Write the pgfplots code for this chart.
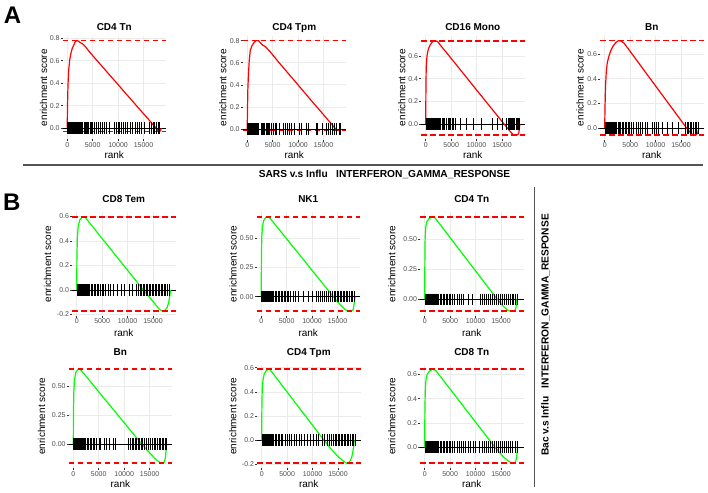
\documentclass[border=0pt]{standalone}
\usepackage{pgfplots}
\pgfplotsset{compat=1.18}
\usepackage{fontspec}
\setmainfont{Liberation Sans}
\definecolor{gridc}{HTML}{EBEBEB}
\definecolor{tickc}{HTML}{333333}
\definecolor{labc}{HTML}{4D4D4D}
\definecolor{esred}{HTML}{FF0000}
\definecolor{esgreen}{HTML}{00FF00}
\definecolor{sepc}{HTML}{555555}
\pgfplotsset{
 gsea/.style n args={3}{
  scale only axis, width=103.5pt, height=103.5pt,
  xmin=-925, xmax=19425,
  axis line style={draw=none},
  tick align=outside, major tick length=2pt,
  tick style={color=tickc, line width=0.5pt},
  xtick={0,5000,10000,15000},
  xtick pos=left, ytick pos=left,
  scaled x ticks=false, scaled y ticks=false,
  unbounded coords=jump,
  /pgf/number format/assume math mode=true,
  xticklabel style={font=\fontsize{7}{8}\selectfont, text=labc, inner sep=1pt, /pgf/number format/set thousands separator={}},
  yticklabel style={font=\fontsize{7}{8}\selectfont, text=labc, inner sep=0.8pt},
  grid=major, major grid style={color=gridc, line width=0.7pt},
  title style={font=\bfseries\fontsize{10}{12}\selectfont, at={([yshift=#2]axis description cs:0.5,1)}, anchor=base},
  xlabel={rank}, ylabel={enrichment score},
  label style={font=\fontsize{10}{12}\selectfont},
  xlabel style={at={([yshift=-#3]axis description cs:0.5,0)}, anchor=base},
  ylabel style={at={([xshift=-#1]axis description cs:0,0.5)}, anchor=center},
  clip=false,
 },
 yone/.style={yticklabel style={/pgf/number format/.cd, fixed, fixed zerofill, precision=1}},
 ytwo/.style={yticklabel style={/pgf/number format/.cd, fixed, fixed zerofill, precision=2}},
 esdash/.style={draw=esred, color=esred, line width=1.6pt, dash pattern=on 5.5pt off 3.5pt},
 zeroline/.style={draw=black, line width=0.8pt},
 hits/.style={draw=black, only marks, mark=|, mark size=5.8pt, mark options={draw=black, line width=0.45pt, solid}},
 esr/.style={draw=esred, line width=1.2pt, solid},
 esg/.style={draw=esgreen, line width=1.2pt, solid},
}
\begin{document}
\begin{tikzpicture}
\useasboundingbox (0pt,0pt) rectangle (708pt,-492pt);

% ---------------- Panel A ----------------
\begin{axis}[gsea={19pt}{-0.7pt}{19pt}, yone, at={(62.5pt,-36pt)}, anchor=north west,
  ymin=-0.10, ymax=0.82, ytick={0,0.2,0.4,0.6,0.8}, title={CD4 Tn}]
\addplot[zeroline] coordinates {(-925,0) (19425,0)};
\addplot[esr] coordinates {(0,0) (60,0.2) (150,0.38) (300,0.52) (500,0.61) (750,0.67) (1000,0.71) (1300,0.74) (1600,0.77) (1900,0.78) (2200,0.775) (2600,0.76) (3000,0.75) (3500,0.73) (4500,0.672) (6000,0.595) (8000,0.491) (10000,0.388) (12000,0.284) (14000,0.181) (16000,0.078) (17000,0.026) (17500,0) (17800,-0.02) (18100,-0.03) (18350,-0.02) (18500,0)};
\addplot[hits] coordinates {(50,0) (120,0) (200,0) (280,0) (350,0) (430,0) (520,0) (600,0) (690,0) (780,0) (860,0) (950,0) (1050,0) (1150,0) (1250,0) (1350,0) (1480,0) (1600,0) (1720,0) (1850,0) (2000,0) (2150,0) (2300,0) (2450,0) (2650,0) (2850,0) (3050,0) (3250,0) (3500,0) (3700,0) (3950,0) (4200,0) (4500,0) (4700,0) (5000,0) (5400,0) (5700,0) (6100,0) (6400,0) (6900,0) (7300,0) (7700,0) (8300,0) (9200,0) (9600,0) (10000,0) (10300,0) (10700,0) (11000,0) (11400,0) (11800,0) (12300,0) (12800,0) (13300,0) (13700,0) (14200,0) (14600,0) (15100,0) (16200,0) (16600,0) (16900,0) (17200,0) (17500,0) (17800,0) (18100,0)};
\addplot[esdash] coordinates {(-925,0.78) (19425,0.78) (nan,nan) (-925,-0.03) (19425,-0.03)};
\end{axis}

\begin{axis}[gsea={19.8pt}{-0.7pt}{19pt}, yone, at={(242.5pt,-36pt)}, anchor=north west,
  ymin=-0.095, ymax=0.842, ytick={0,0.2,0.4,0.6,0.8}, title={CD4 Tpm}]
\addplot[zeroline] coordinates {(-925,0) (19425,0)};
\addplot[esr] coordinates {(0,0) (50,0.15) (120,0.35) (250,0.5) (400,0.62) (600,0.71) (900,0.75) (1300,0.78) (1700,0.80) (2200,0.80) (2600,0.78) (3000,0.76) (3600,0.745) (4500,0.70) (6000,0.615) (8000,0.507) (10000,0.399) (12000,0.29) (14000,0.183) (16000,0.076) (17400,0) (17800,-0.012) (18100,-0.015) (18400,-0.005) (18500,0)};
\addplot[hits] coordinates {(30,0) (150,0) (300,0) (450,0) (600,0) (750,0) (900,0) (1050,0) (1200,0) (1350,0) (1500,0) (1650,0) (1800,0) (1950,0) (2100,0) (2200,0) (2700,0) (2900,0) (3200,0) (3400,0) (3700,0) (3900,0) (4200,0) (4400,0) (4800,0) (5100,0) (5500,0) (5800,0) (6300,0) (7000,0) (7400,0) (7800,0) (8300,0) (8700,0) (9300,0) (10300,0) (10600,0) (11600,0) (12000,0) (13500,0) (13800,0) (14800,0) (15500,0) (15900,0) (16400,0) (16800,0) (17200,0) (17500,0) (18000,0) (18300,0)};
\addplot[esdash] coordinates {(-925,0.80) (19425,0.80) (nan,nan) (-925,-0.015) (19425,-0.015)};
\end{axis}

\begin{axis}[gsea={19.3pt}{-0.7pt}{19pt}, yone, at={(421pt,-36pt)}, anchor=north west,
  ymin=-0.137, ymax=0.777, ytick={0,0.2,0.4,0.6}, title={CD16 Mono}]
\addplot[zeroline] coordinates {(-925,0) (19425,0)};
\addplot[esr] coordinates {(0,0) (40,0.3) (100,0.5) (250,0.6) (500,0.66) (900,0.7) (1300,0.725) (1700,0.735) (2300,0.73) (2800,0.70) (4000,0.635) (6000,0.524) (8000,0.412) (10000,0.30) (12000,0.189) (14000,0.078) (15400,0) (16500,-0.06) (17100,-0.09) (17500,-0.097) (18100,-0.095) (18300,-0.08) (18450,-0.03) (18500,0)};
\addplot[hits] coordinates {(30,0) (150,0) (280,0) (400,0) (550,0) (700,0) (850,0) (1000,0) (1150,0) (1300,0) (1450,0) (1600,0) (1800,0) (2000,0) (2200,0) (2400,0) (2650,0) (2900,0) (3150,0) (3400,0) (3700,0) (4100,0) (4350,0) (4600,0) (4900,0) (5200,0) (5500,0) (5800,0) (6700,0) (8000,0) (9400,0) (11000,0) (13000,0) (14000,0) (15000,0) (15900,0) (16200,0) (16400,0) (16700,0) (16900,0) (17100,0) (17300,0) (17500,0) (17700,0) (17900,0) (18100,0) (18300,0)};
\addplot[esdash] coordinates {(-925,0.735) (19425,0.735) (nan,nan) (-925,-0.097) (19425,-0.097)};
\end{axis}

\begin{axis}[gsea={20pt}{-0.7pt}{19pt}, yone, at={(600pt,-36pt)}, anchor=north west,
  ymin=-0.0935, ymax=0.748, ytick={0,0.2,0.4,0.6}, title={Bn}]
\addplot[zeroline] coordinates {(-925,0) (19425,0)};
\addplot[esr] coordinates {(0,0) (50,0.15) (150,0.33) (300,0.45) (500,0.53) (800,0.58) (1200,0.63) (1700,0.67) (2200,0.695) (2700,0.71) (3300,0.705) (3800,0.69) (6000,0.567) (8000,0.454) (10000,0.342) (12000,0.23) (14000,0.118) (16100,0) (17000,-0.045) (17500,-0.057) (18000,-0.055) (18300,-0.04) (18500,0)};
\addplot[hits] coordinates {(30,0) (150,0) (300,0) (450,0) (600,0) (750,0) (900,0) (1100,0) (1300,0) (1500,0) (1700,0) (1900,0) (2100,0) (2350,0) (2600,0) (2850,0) (3100,0) (3400,0) (3700,0) (4000,0) (4300,0) (4600,0) (4900,0) (5300,0) (5700,0) (6100,0) (6500,0) (6900,0) (7400,0) (7900,0) (8400,0) (9300,0) (9700,0) (10100,0) (10600,0) (11300,0) (12300,0) (13300,0) (14500,0) (15900,0) (16200,0) (16500,0) (16800,0) (17100,0) (17400,0) (17700,0) (18000,0) (18300,0)};
\addplot[esdash] coordinates {(-925,0.71) (19425,0.71) (nan,nan) (-925,-0.057) (19425,-0.057)};
\end{axis}

% ---------------- Panel B, row 1 ----------------
\begin{axis}[gsea={24.5pt}{4pt}{21pt}, yone, at={(72pt,-212.3pt)}, anchor=north west,
  ymin=-0.211, ymax=0.633, ytick={-0.2,0,0.2,0.4,0.6}, title={CD8 Tem}]
\addplot[zeroline] coordinates {(-925,0) (19425,0)};
\addplot[esg] coordinates {(0,0) (40,0.25) (120,0.42) (300,0.52) (600,0.57) (1000,0.59) (1300,0.595) (1700,0.59) (3000,0.523) (5000,0.419) (7000,0.316) (9000,0.212) (11000,0.109) (13100,0) (14500,-0.07) (15500,-0.12) (16300,-0.16) (16900,-0.173) (17400,-0.165) (17800,-0.14) (18100,-0.10) (18300,-0.05) (18450,0)};
\addplot[hits] coordinates {(50,0) (200,0) (350,0) (500,0) (650,0) (800,0) (950,0) (1100,0) (1300,0) (1500,0) (1700,0) (1900,0) (2100,0) (2300,0) (2500,0) (2800,0) (3100,0) (3400,0) (3700,0) (4000,0) (4300,0) (4600,0) (5000,0) (5300,0) (5700,0) (6100,0) (6500,0) (7200,0) (7900,0) (8800,0) (9300,0) (10400,0) (11000,0) (11700,0) (12100,0) (12400,0) (12700,0) (13000,0) (13300,0) (13600,0) (13900,0) (14200,0) (14500,0) (14800,0) (15100,0) (15400,0) (15700,0) (16000,0) (16300,0) (16600,0) (16900,0) (17200,0) (17500,0) (17800,0) (18100,0)};
\addplot[esdash] coordinates {(-925,0.595) (19425,0.595) (nan,nan) (-925,-0.173) (19425,-0.173)};
\end{axis}

\begin{axis}[gsea={23.5pt}{4pt}{21pt}, ytwo, at={(256.5pt,-212.3pt)}, anchor=north west,
  ymin=-0.163, ymax=0.719, ytick={0,0.25,0.5}, title={NK1}]
\addplot[zeroline] coordinates {(-925,0) (19425,0)};
\addplot[esg] coordinates {(0,0) (40,0.3) (100,0.5) (250,0.6) (500,0.65) (900,0.675) (1300,0.679) (1700,0.67) (4000,0.547) (6000,0.439) (8000,0.332) (10000,0.224) (12000,0.117) (14180,0) (15500,-0.068) (16500,-0.11) (17200,-0.123) (17800,-0.12) (18100,-0.11) (18300,-0.05) (18450,0)};
\addplot[hits] coordinates {(40,0) (180,0) (320,0) (460,0) (600,0) (750,0) (900,0) (1050,0) (1200,0) (1400,0) (1600,0) (1800,0) (2000,0) (2200,0) (2400,0) (2700,0) (3000,0) (3300,0) (3600,0) (3900,0) (4200,0) (4500,0) (4800,0) (5100,0) (5400,0) (5800,0) (6200,0) (6700,0) (7200,0) (8300,0) (9300,0) (10000,0) (10800,0) (11200,0) (11600,0) (12000,0) (12400,0) (12800,0) (13200,0) (13600,0) (14000,0) (14300,0) (14600,0) (14900,0) (15200,0) (15500,0) (15800,0) (16100,0) (16400,0) (16700,0) (17000,0) (17300,0) (17600,0) (17900,0) (18200,0)};
\addplot[esdash] coordinates {(-925,0.679) (19425,0.679) (nan,nan) (-925,-0.123) (19425,-0.123)};
\end{axis}

\begin{axis}[gsea={28.3pt}{4pt}{21pt}, ytwo, at={(420pt,-212.3pt)}, anchor=north west,
  ymin=-0.137, ymax=0.725, ytick={0,0.25,0.5}, title={CD4 Tn}]
\addplot[zeroline] coordinates {(-925,0) (19425,0)};
\addplot[esg] coordinates {(0,0) (30,0.3) (80,0.5) (200,0.6) (400,0.645) (800,0.67) (1400,0.686) (2000,0.68) (4000,0.569) (6000,0.458) (8000,0.348) (10000,0.237) (12000,0.126) (14280,0) (15500,-0.06) (16300,-0.09) (16800,-0.098) (17700,-0.095) (17950,-0.07) (18100,0)};
\addplot[hits] coordinates {(40,0) (180,0) (320,0) (460,0) (600,0) (750,0) (900,0) (1050,0) (1200,0) (1400,0) (1600,0) (1800,0) (2000,0) (2250,0) (2500,0) (2750,0) (3000,0) (3300,0) (3600,0) (3900,0) (4200,0) (4500,0) (4800,0) (5100,0) (5500,0) (5900,0) (6300,0) (6700,0) (7100,0) (7600,0) (8500,0) (9400,0) (10900,0) (11300,0) (11700,0) (12100,0) (12500,0) (12900,0) (13300,0) (13700,0) (14100,0) (14500,0) (14900,0) (15300,0) (15700,0) (16100,0) (16500,0) (16900,0) (17200,0) (17500,0) (17800,0) (18100,0)};
\addplot[esdash] coordinates {(-925,0.686) (19425,0.686) (nan,nan) (-925,-0.098) (19425,-0.098)};
\end{axis}

% ---------------- Panel B, row 2 ----------------
\begin{axis}[gsea={27pt}{3.2pt}{19.5pt}, ytwo, at={(68.6pt,-364.5pt)}, anchor=north west,
  ymin=-0.207, ymax=0.688, ytick={0,0.25,0.5}, title={Bn}]
\addplot[zeroline] coordinates {(-925,0) (19425,0)};
\addplot[esg] coordinates {(0,0) (30,0.25) (100,0.45) (250,0.56) (500,0.62) (800,0.64) (1100,0.647) (1500,0.64) (3000,0.56) (5000,0.452) (7000,0.345) (9000,0.238) (11000,0.131) (13450,0) (15000,-0.075) (16300,-0.135) (17000,-0.158) (17600,-0.166) (17900,-0.155) (18100,-0.12) (18250,-0.05) (18350,0)};
\addplot[hits] coordinates {(50,0) (200,0) (350,0) (500,0) (650,0) (800,0) (950,0) (1100,0) (1300,0) (1500,0) (1700,0) (1900,0) (2100,0) (2400,0) (2700,0) (3000,0) (3300,0) (3600,0) (3900,0) (4200,0) (4600,0) (5000,0) (5300,0) (6100,0) (6500,0) (7000,0) (7800,0) (8300,0) (10800,0) (11200,0) (11500,0) (11800,0) (12100,0) (12400,0) (12700,0) (13000,0) (13300,0) (13600,0) (14000,0) (14400,0) (14800,0) (15200,0) (15600,0) (15900,0) (16200,0) (16500,0) (16800,0) (17100,0) (17400,0) (17700,0) (18000,0) (18300,0)};
\addplot[esdash] coordinates {(-925,0.647) (19425,0.647) (nan,nan) (-925,-0.166) (19425,-0.166)};
\end{axis}

\begin{axis}[gsea={24.3pt}{3.2pt}{19.5pt}, yone, at={(257pt,-364.5pt)}, anchor=north west,
  ymin=-0.229, ymax=0.626, ytick={-0.2,0,0.2,0.4,0.6}, title={CD4 Tpm}]
\addplot[zeroline] coordinates {(-925,0) (19425,0)};
\addplot[esg] coordinates {(0,0) (30,0.25) (100,0.42) (250,0.5) (500,0.55) (900,0.575) (1300,0.587) (1700,0.58) (3500,0.481) (5500,0.371) (7500,0.261) (9500,0.151) (12250,0) (13500,-0.065) (15000,-0.135) (16000,-0.17) (16700,-0.19) (17100,-0.185) (17400,-0.17) (17700,-0.14) (17900,-0.10) (18100,-0.04) (18200,0)};
\addplot[hits] coordinates {(40,0) (180,0) (320,0) (460,0) (600,0) (750,0) (900,0) (1050,0) (1200,0) (1400,0) (1600,0) (1800,0) (2000,0) (2300,0) (2600,0) (2900,0) (3200,0) (3500,0) (3800,0) (4100,0) (4600,0) (5000,0) (5400,0) (5900,0) (6300,0) (6700,0) (7300,0) (7800,0) (8300,0) (8900,0) (9500,0) (10100,0) (10700,0) (11200,0) (11800,0) (12300,0) (12800,0) (13200,0) (13600,0) (14000,0) (14400,0) (14700,0) (15000,0) (15300,0) (15600,0) (15900,0) (16200,0) (16500,0) (16800,0) (17100,0) (17400,0) (17700,0) (18000,0) (18300,0)};
\addplot[esdash] coordinates {(-925,0.587) (19425,0.587) (nan,nan) (-925,-0.19) (19425,-0.19)};
\end{axis}

\begin{axis}[gsea={28.3pt}{3.2pt}{19.5pt}, yone, at={(420pt,-364.5pt)}, anchor=north west,
  ymin=-0.17, ymax=0.68, ytick={0,0.2,0.4,0.6}, title={CD8 Tn}]
\addplot[zeroline] coordinates {(-925,0) (19425,0)};
\addplot[esg] coordinates {(0,0) (30,0.25) (100,0.45) (250,0.56) (500,0.6) (900,0.625) (1400,0.638) (1700,0.641) (2200,0.63) (4000,0.532) (6000,0.424) (8000,0.315) (10000,0.207) (12000,0.099) (13820,0) (15500,-0.08) (16500,-0.115) (17300,-0.131) (17800,-0.125) (18000,-0.10) (18150,-0.05) (18250,0)};
\addplot[hits] coordinates {(40,0) (180,0) (320,0) (460,0) (600,0) (750,0) (900,0) (1050,0) (1200,0) (1400,0) (1600,0) (1800,0) (2000,0) (2250,0) (2500,0) (2750,0) (3000,0) (3300,0) (3600,0) (3900,0) (4200,0) (4500,0) (4800,0) (5100,0) (5500,0) (5900,0) (6300,0) (6700,0) (7100,0) (7500,0) (8000,0) (8500,0) (9000,0) (9500,0) (10000,0) (10800,0) (11300,0) (11700,0) (12100,0) (12500,0) (12900,0) (13300,0) (13700,0) (14100,0) (14500,0) (14900,0) (15300,0) (15700,0) (16100,0) (16500,0) (16900,0) (17300,0) (17700,0) (18100,0)};
\addplot[esdash] coordinates {(-925,0.641) (19425,0.641) (nan,nan) (-925,-0.131) (19425,-0.131)};
\end{axis}

% ---------------- Decorations ----------------
\node[font=\bfseries\fontsize{24}{28}\selectfont, anchor=base] at (12.5pt,-23.6pt) {A};
\node[font=\bfseries\fontsize{24}{28}\selectfont, anchor=base] at (11.7pt,-210.6pt) {B};
\draw[sepc, line width=1.2pt] (22.5pt,-165pt) -- (703pt,-165pt);
\node[font=\bfseries\fontsize{10.2}{12}\selectfont, anchor=base] at (384.5pt,-177.6pt) {SARS v.s Influ\ \ \ INTERFERON\_GAMMA\_RESPONSE};
\draw[sepc, line width=1.2pt] (534.3pt,-187pt) -- (534.3pt,-487pt);
\node[font=\bfseries\fontsize{10.2}{12}\selectfont, anchor=base, rotate=90] at (548.6pt,-335pt) {Bac v.s Influ\ \ \ INTERFERON\_GAMMA\_RESPONSE};
\end{tikzpicture}
\end{document}
